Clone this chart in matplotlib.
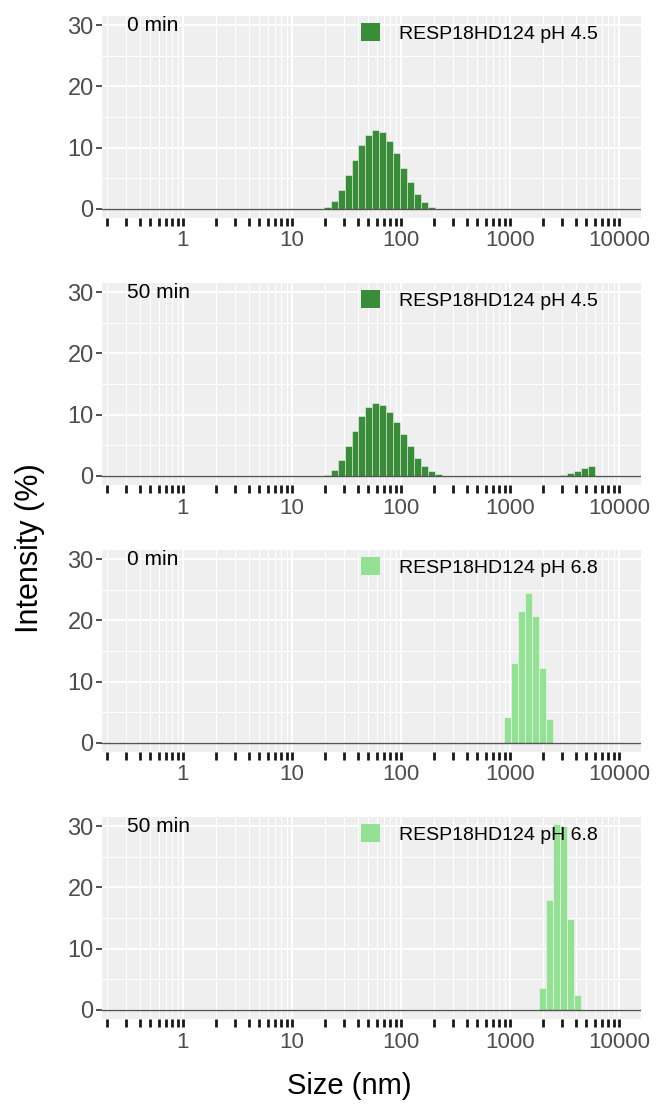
import matplotlib
matplotlib.use("Agg")
import matplotlib.pyplot as plt
from matplotlib.patches import Patch
from matplotlib.ticker import FixedLocator, FixedFormatter, LogLocator, NullFormatter
import numpy as np

plt.rcParams['font.family'] = ['Liberation Sans', 'DejaVu Sans']

# Zetasizer size classes (nm) that carry signal, and the intensity (%)
size_45_0 = [21.04, 24.36, 28.21, 32.67, 37.84, 43.82, 50.75, 58.77, 68.06, 78.82,
             91.28, 105.7, 122.4, 141.8, 164.2, 190.1]
int_45_0 = [0.27, 1.2, 3.06, 5.46, 8.0, 10.4, 12.1, 12.8, 12.5, 11.1,
            9.2, 6.7, 4.4, 2.4, 1.04, 0.33]

size_45_50 = [21.04, 24.36, 28.21, 32.67, 37.84, 43.82, 50.75, 58.77, 68.06, 78.82,
              91.28, 105.7, 122.4, 141.8, 164.2, 190.1, 220.2,
              3091, 3580, 4145, 4801, 5560]
int_45_50 = [0.1, 0.93, 2.57, 4.9, 7.4, 9.7, 11.3, 11.9, 11.6, 10.5,
             8.85, 6.8, 4.8, 2.9, 1.64, 0.77, 0.27,
             0.16, 0.44, 0.82, 1.2, 1.58]

size_68_0 = [955.4, 1106, 1281, 1484, 1718, 1990, 2305]
int_68_0 = [4.2, 13.1, 21.5, 24.5, 20.7, 12.2, 3.9]

size_68_50 = [1990, 2305, 2669, 3091, 3580, 4145]
int_68_50 = [3.55, 17.9, 30.3, 30.0, 14.9, 2.46]

times = ["0 min", "50 min", "0 min", "50 min"]
samples = ["RESP18HD124 pH 4.5", "RESP18HD124 pH 4.5", "RESP18HD124 pH 6.8", "RESP18HD124 pH 6.8"]
dark_green = "#3a8b3a"
light_green = "#94e094"
colors = [dark_green, dark_green, light_green, light_green]
sizes = [size_45_0, size_45_50, size_68_0, size_68_50]
intens = [int_45_0, int_45_50, int_68_0, int_68_50]

x_major = [1, 10, 100, 1000, 10000]
x_labels = ["1", "10", "100", "1000", "10000"]
ratio = 1.1582  # spacing between neighbouring size classes

W, H = 657, 1104
fig = plt.figure(figsize=(W / 100, H / 100), dpi=100)

for i in range(4):
    top = 16 + 267 * i
    bottom = 218 + 267 * i
    ax = fig.add_axes([102 / W, 1 - bottom / H, 539 / W, (bottom - top) / H])
    ax.set_facecolor("#efefef")
    ax.set_xscale("log")
    ax.set_xlim(10 ** -0.743, 10 ** 4.202)
    ax.set_ylim(-1.5, 31.5)

    s = np.array(sizes[i])
    left = s / np.sqrt(ratio)
    width = s * np.sqrt(ratio) - left
    ax.bar(left, intens[i], width=width, align="edge", color=colors[i],
           edgecolor=(1, 1, 1, 0.55), linewidth=0.6, zorder=3)
    ax.axhline(0, color="#555555", lw=1.0, zorder=4)

    ax.xaxis.set_major_locator(FixedLocator(x_major))
    ax.xaxis.set_major_formatter(FixedFormatter(x_labels))
    ax.xaxis.set_minor_locator(LogLocator(base=10, subs=np.arange(2, 10)))
    ax.xaxis.set_minor_formatter(NullFormatter())
    ax.yaxis.set_major_locator(FixedLocator([0, 10, 20, 30]))
    ax.yaxis.set_minor_locator(FixedLocator([5, 15, 25]))

    ax.grid(which="major", color="white", lw=1.4, zorder=0)
    ax.grid(which="minor", color="white", lw=0.7, zorder=0)
    ax.set_axisbelow(True)

    ax.tick_params(axis="x", which="both", direction="out", length=6, width=2,
                   color="#1a1a1a")
    ax.tick_params(axis="x", which="major", pad=3, labelsize=16, labelcolor="#4d4d4d")
    ax.tick_params(axis="y", which="major", direction="out", length=4, width=1.2,
                   color="#333333", pad=2, labelsize=17, labelcolor="#4d4d4d")
    ax.tick_params(axis="y", which="minor", length=0)
    for sp in ax.spines.values():
        sp.set_visible(False)

    ax.text(0.046, 0.955, times[i], transform=ax.transAxes, ha="left", va="center",
            fontsize=15, color="black")
    ax.legend(handles=[Patch(facecolor=colors[i], label=samples[i])],
              loc="center left", bbox_to_anchor=(0.4805, 0.916), frameon=False,
              fontsize=14, handlelength=1.0, handleheight=1.0,
              handletextpad=0.93, borderpad=0, borderaxespad=0)

fig.text(30 / W, 1 - 548 / H, "Intensity (%)", rotation=90, ha="center", va="center",
         fontsize=22, color="black")
fig.text(349 / W, 1 - 1086 / H, "Size (nm)", ha="center", va="center",
         fontsize=21, color="black")

fig.savefig("out.png", dpi=100)
